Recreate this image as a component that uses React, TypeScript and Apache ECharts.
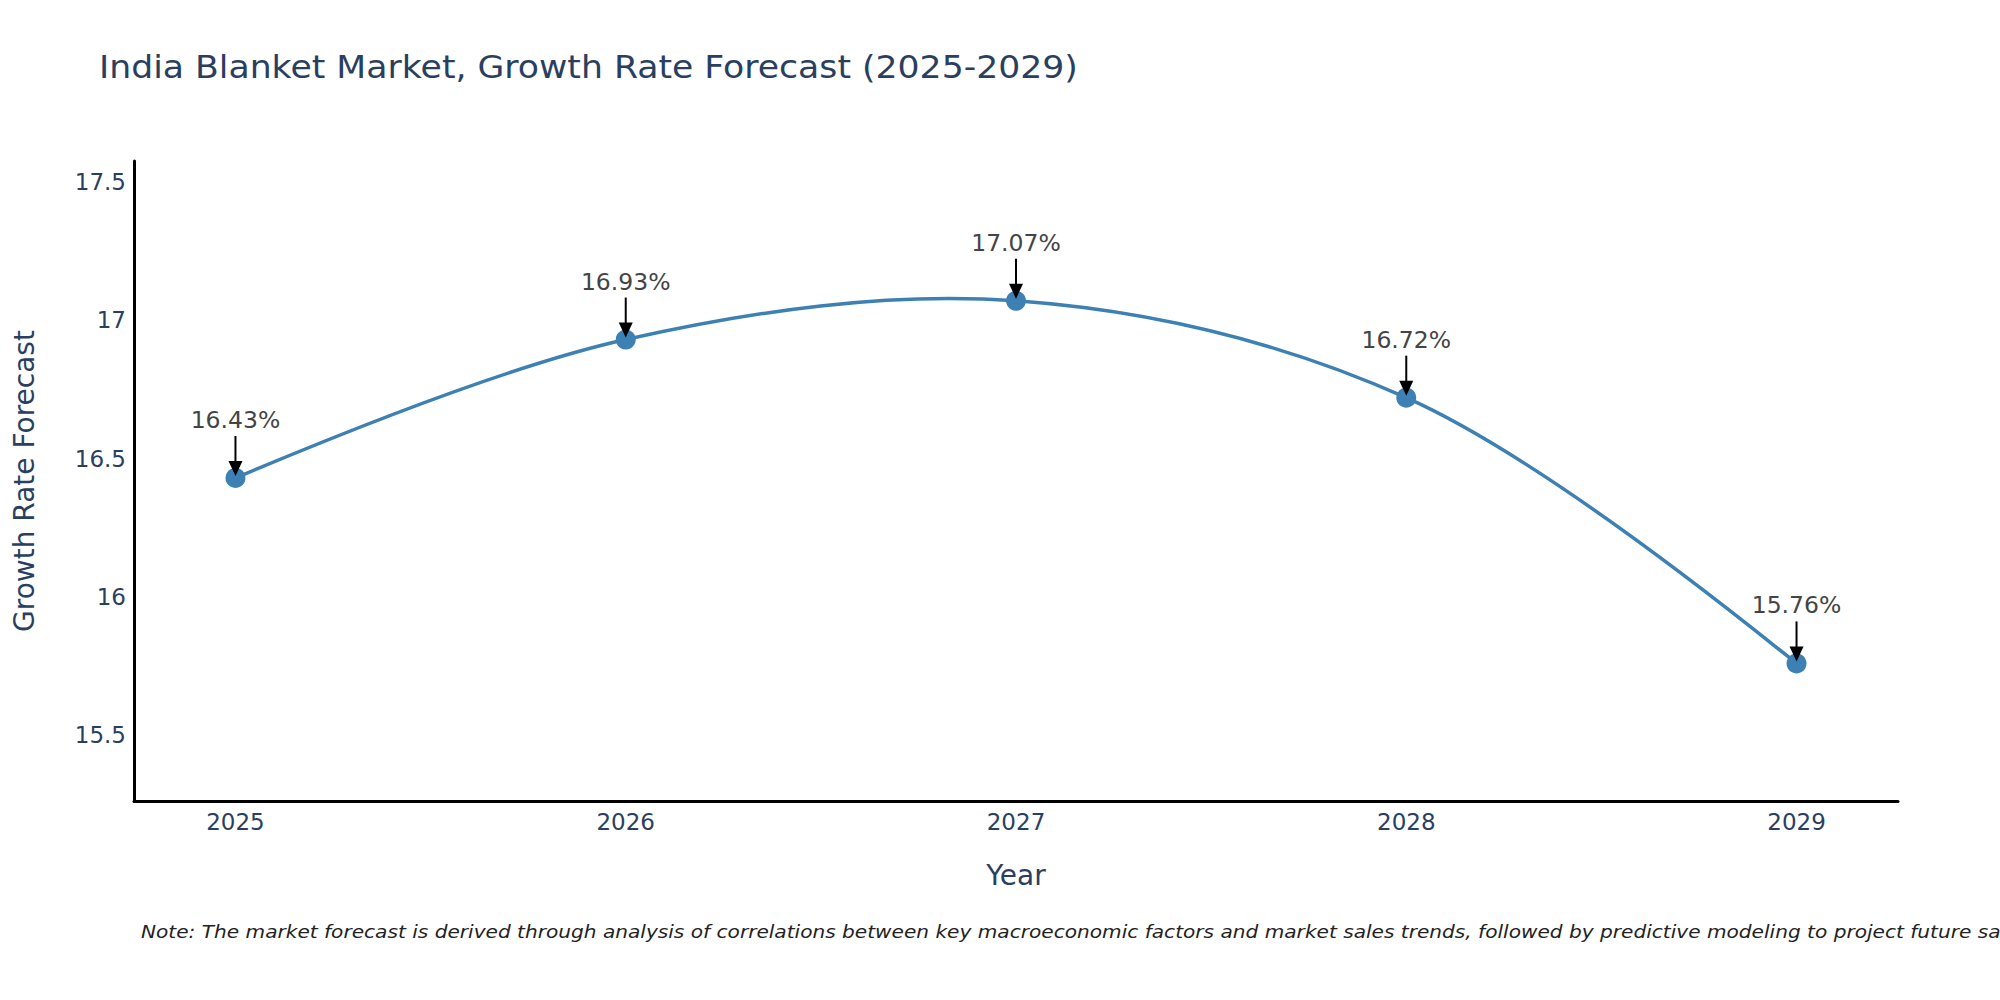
import React, { useEffect, useRef } from 'react';
import * as echarts from 'echarts';

const years = [2025, 2026, 2027, 2028, 2029];
const growth = [16.43, 16.93, 17.07, 16.72, 15.76];
const labels = ['16.43%', '16.93%', '17.07%', '16.72%', '15.76%'];

const titleText = 'India Blanket Market, Growth Rate Forecast (2025-2029)';
const noteText =
  'Note: The market forecast is derived through analysis of correlations between key macroeconomic factors and market sales trends, followed by predictive modeling to project future sales.';

const FONT = '"DejaVu Sans", Verdana, sans-serif';
const INK = '#2a3f5f';
const BLUE = '#3d80b3';

// control points like a catmull-rom spline (smoothing 1), in pixel space
const tangent = (prev, cur, next) => {
  const d1x = prev[0] - cur[0];
  const d1y = prev[1] - cur[1];
  const d2x = next[0] - cur[0];
  const d2y = next[1] - cur[1];
  const d1a = Math.pow(d1x * d1x + d1y * d1y, 0.25);
  const d2a = Math.pow(d2x * d2x + d2y * d2y, 0.25);
  const numx = d2a * d2a * d1x - d1a * d1a * d2x;
  const numy = d2a * d2a * d1y - d1a * d1a * d2y;
  const den1 = 3 * d2a * (d1a + d2a);
  const den2 = 3 * d1a * (d1a + d2a);
  return [
    [cur[0] + numx / den1, cur[1] + numy / den1],
    [cur[0] - numx / den2, cur[1] - numy / den2],
  ];
};

const App = () => {
  const chartRef = useRef(null);

  useEffect(() => {
    document.body.style.margin = '0';
    if (!chartRef.current) return;
    const chart = echarts.init(chartRef.current, null, { renderer: 'svg' });

    const points = years.map((y, i) => [y, growth[i]]);

    const option = {
      animation: false,
      backgroundColor: '#fff',
      textStyle: { fontFamily: FONT },
      grid: { left: 134, right: 102, top: 161, bottom: 199 },
      xAxis: {
        type: 'value',
        min: 2024.74,
        max: 2029.26,
        name: 'Year',
        nameLocation: 'middle',
        nameGap: 60,
        nameTextStyle: { fontFamily: FONT, fontSize: 28, color: INK },
        axisLine: { show: true, lineStyle: { color: '#000', width: 3 } },
        axisTick: { show: false },
        splitLine: { show: false },
        axisLabel: {
          margin: 9,
          fontFamily: FONT,
          fontSize: 23,
          color: INK,
          formatter: (v) => (Number.isInteger(v) ? String(v) : ''),
        },
      },
      yAxis: {
        type: 'value',
        min: 15.263,
        max: 17.575,
        name: 'Growth Rate Forecast',
        nameLocation: 'middle',
        nameGap: 96,
        nameTextStyle: { fontFamily: FONT, fontSize: 28, color: INK },
        axisLine: { show: true, lineStyle: { color: '#000', width: 3 } },
        axisTick: { show: false },
        splitLine: { show: false },
        axisLabel: {
          margin: 8,
          fontFamily: FONT,
          fontSize: 23,
          color: INK,
          formatter: (v) => (Math.abs(v * 2 - Math.round(v * 2)) < 1e-6 ? String(v) : ''),
        },
      },
      series: [
        {
          // the spline curve, one segment per point
          type: 'custom',
          data: points,
          clip: false,
          z: 1,
          renderItem: (params, api) => {
            const i = params.dataIndex;
            const n = years.length;
            if (i >= n - 1) return null;
            const pts = years.map((y, k) => api.coord([y, growth[k]]));
            const tans = pts.map((p, k) => (k > 0 && k < n - 1 ? tangent(pts[k - 1], p, pts[k + 1]) : null));
            const a = pts[i];
            const b = pts[i + 1];
            const shape: any = { x1: a[0], y1: a[1], x2: b[0], y2: b[1] };
            if (i === 0) {
              shape.cpx1 = tans[1][0][0];
              shape.cpy1 = tans[1][0][1];
            } else if (i + 1 === n - 1) {
              shape.cpx1 = tans[i][1][0];
              shape.cpy1 = tans[i][1][1];
            } else {
              shape.cpx1 = tans[i][1][0];
              shape.cpy1 = tans[i][1][1];
              shape.cpx2 = tans[i + 1][0][0];
              shape.cpy2 = tans[i + 1][0][1];
            }
            return {
              type: 'bezierCurve',
              shape,
              style: { stroke: BLUE, lineWidth: 3.5, fill: 'none' },
            };
          },
        },
        {
          type: 'scatter',
          data: points,
          symbol: 'circle',
          symbolSize: 20,
          itemStyle: { color: BLUE, opacity: 1 },
          z: 2,
        },
        {
          // arrow annotations
          type: 'custom',
          data: points,
          clip: false,
          z: 5,
          renderItem: (params, api) => {
            const p = api.coord([api.value(0), api.value(1)]);
            const x = p[0];
            const y = p[1];
            return {
              type: 'group',
              children: [
                {
                  type: 'line',
                  shape: { x1: x, y1: y - 42, x2: x, y2: y - 14 },
                  style: { stroke: '#000', lineWidth: 2 },
                },
                {
                  type: 'polygon',
                  shape: { points: [[x - 7, y - 17], [x + 7, y - 17], [x, y - 2]] },
                  style: { fill: '#000' },
                },
                {
                  type: 'text',
                  style: {
                    text: labels[params.dataIndex],
                    x: x,
                    y: y - 58,
                    align: 'center',
                    verticalAlign: 'middle',
                    fontFamily: FONT,
                    fontSize: 23.5,
                    fill: '#444',
                  },
                },
              ],
            };
          },
        },
      ],
      graphic: [
        {
          // title, widened a little to match the wider reference face
          type: 'text',
          x: 99,
          y: 51,
          scaleX: 1.1,
          style: {
            text: titleText,
            fontFamily: FONT,
            fontSize: 31.5,
            fill: INK,
            verticalAlign: 'top',
          },
        },
        {
          type: 'text',
          x: 141,
          y: 923,
          scaleX: 1.118,
          style: {
            text: noteText,
            fontFamily: FONT,
            fontSize: 18,
            fontStyle: 'italic',
            fill: '#222',
            verticalAlign: 'top',
          },
        },
      ],
    };

    chart.setOption(option);

    return () => {
      chart.dispose();
    };
  }, []);

  return <div ref={chartRef} style={{ width: '2000px', height: '1000px' }} />;
};

export default App;
